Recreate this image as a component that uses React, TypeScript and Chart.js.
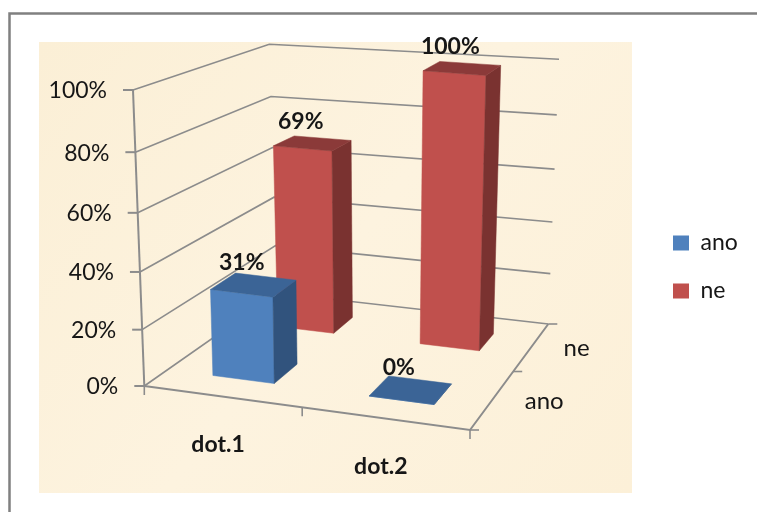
import React, { useEffect, useRef } from "react";
import { Chart, registerables } from "chart.js";

Chart.register(...registerables);

const categories = ["dot.1", "dot.2"];
const seriesNames = ["ano", "ne"];
const anoValues = [31, 0];
const neValues = [69, 100];
const yMax = 100;
const yStep = 20;

const BLUE = { front: "#4F81BD", side: "#31537D", top: "#3B6496" };
const RED = { front: "#C0504D", side: "#7A3230", top: "#8B3A39" };
const shades = [BLUE, RED];
const GRID = "#8C8C8C";
const TEXT = "#161616";
const FONT = "Lato";

type Pt = [number, number];

function quad(p0: Pt, p1: Pt, p2: Pt, p3: Pt) {
  const dx1 = p1[0] - p2[0], dx2 = p3[0] - p2[0], sx = p0[0] - p1[0] + p2[0] - p3[0];
  const dy1 = p1[1] - p2[1], dy2 = p3[1] - p2[1], sy = p0[1] - p1[1] + p2[1] - p3[1];
  const den = dx1 * dy2 - dx2 * dy1;
  const g = (sx * dy2 - dx2 * sy) / den;
  const h = (dx1 * sy - sx * dy1) / den;
  const a = p1[0] - p0[0] + g * p1[0], b = p3[0] - p0[0] + h * p3[0];
  const d = p1[1] - p0[1] + g * p1[1], e = p3[1] - p0[1] + h * p3[1];
  return (s: number, t: number): Pt => {
    const w = 1 + g * s + h * t;
    return [(p0[0] + a * s + b * t) / w, (p0[1] + d * s + e * t) / w];
  };
}

// The view of the 3D box: floor plane, and how far each floor corner rises at the axis maximum.
const floor = quad([144.3, 386], [470, 430], [548.3, 324], [277, 293]);
const riseFront: [Pt, Pt] = [[-11.3, -296], [7, -300]];
const riseBack: [Pt, Pt] = [[-7.7, -248.7], [10.7, -264.7]];
const K = -0.06;
const DEPTH_RATIO = 0.9;

function project(s: number, t: number, z: number): Pt {
  const a = floor(s, t);
  const f = (z * (1 + K)) / (1 + K * z);
  const mix = (i: 0 | 1) =>
    (riseFront[0][i] * (1 - s) + riseFront[1][i] * s) * (1 - t) +
    (riseBack[0][i] * (1 - s) + riseBack[1][i] * s) * t;
  return [a[0] + mix(0) * f, a[1] + mix(1) * f];
}

function poly(ctx: CanvasRenderingContext2D, pts: Pt[], fill: string) {
  ctx.beginPath();
  pts.forEach((p, i) => (i ? ctx.lineTo(p[0], p[1]) : ctx.moveTo(p[0], p[1])));
  ctx.closePath();
  ctx.fillStyle = fill;
  ctx.fill();
  ctx.strokeStyle = fill;
  ctx.lineWidth = 0.5;
  ctx.stroke();
}

function line(ctx: CanvasRenderingContext2D, pts: Pt[], width: number) {
  ctx.beginPath();
  pts.forEach((p, i) => (i ? ctx.lineTo(p[0], p[1]) : ctx.moveTo(p[0], p[1])));
  ctx.strokeStyle = GRID;
  ctx.lineWidth = width;
  ctx.stroke();
}

function text(
  ctx: CanvasRenderingContext2D,
  str: string,
  x: number,
  y: number,
  font: string,
  align: CanvasTextAlign
) {
  ctx.font = font;
  ctx.textAlign = align;
  ctx.textBaseline = "middle";
  ctx.fillStyle = TEXT;
  ctx.fillText(str, x, y);
}

const view3d = {
  id: "view3d",
  afterLayout(chart: any) {
    const lg = chart.legend;
    const w = lg.right - lg.left, h = lg.bottom - lg.top;
    lg.left = 648;
    lg.right = lg.left + w;
    lg.top = 206.5;
    lg.bottom = lg.top + h;
  },
  beforeDraw(chart: any) {
    const ctx = chart.ctx as CanvasRenderingContext2D;
    ctx.save();
    ctx.fillStyle = "#FFFFFF";
    ctx.fillRect(0, 0, chart.width, chart.height);
    ctx.strokeStyle = "#808080";
    ctx.lineWidth = 2.5;
    ctx.beginPath();
    ctx.moveTo(9.5, chart.height + 2);
    ctx.lineTo(9.5, 13.5);
    ctx.lineTo(chart.width + 2, 13.5);
    ctx.stroke();
    const g = ctx.createLinearGradient(39, 42, 632, 493);
    g.addColorStop(0, "#FBEFD6");
    g.addColorStop(0.5, "#FDF3DF");
    g.addColorStop(1, "#FCF0D8");
    ctx.fillStyle = g;
    ctx.fillRect(39, 42, 593, 451);
    ctx.restore();
  },
  beforeDatasetsDraw(chart: any) {
    const ctx = chart.ctx as CanvasRenderingContext2D;
    const xs = chart.scales.x, ys = chart.scales.y;
    const n = chart.data.datasets.length;
    const zOf = (px: number) => (ys.bottom - px) / ys.height;
    ctx.save();

    // walls: one gridline per tick of the value axis
    ys.ticks.forEach((tk: any) => {
      const z = zOf(ys.getPixelForValue(tk.value));
      line(ctx, [project(0, 0, z), project(0, 1, z), project(1, 1, z)], 1.6);
      const p = project(0, 0, z);
      line(ctx, [[p[0] - 10, p[1]], p], 2);
      text(ctx, tk.label, p[0] - 26, p[1] + 1, `23px ${FONT}`, "right");
    });

    // axis lines and their tick marks
    line(ctx, [project(0, 0, 0), project(0, 0, 1)], 2);
    line(ctx, [project(0, 0, 0), project(1, 0, 0), project(1, 1, 0)], 2);
    [0, 0.5, 1].forEach((s) => {
      const p = project(s, 0, 0);
      line(ctx, [p, [p[0], p[1] + 9]], 1.6);
    });
    [0, 0.5, 1].forEach((t) => {
      const p = project(1, t, 0);
      line(ctx, [p, [p[0] + 9, p[1]]], 1.6);
    });

    // bars, from the back series to the front one
    const labels: Array<[string, number, number]> = [];
    for (let d = n - 1; d >= 0; d--) {
      const meta = chart.getDatasetMeta(d);
      const c = shades[d];
      meta.data.forEach((el: any, i: number) => {
        const s0 = (el.x - el.width / 2 - xs.left) / xs.width;
        const s1 = (el.x + el.width / 2 - xs.left) / xs.width;
        const span = el.width / xs.width;
        const t0 = (d + 0.5) / n - span / 2;
        const t1 = t0 + DEPTH_RATIO * span;
        const z = zOf(el.y);
        poly(ctx, [project(s0, t0, 0), project(s1, t0, 0), project(s1, t0, z), project(s0, t0, z)], c.front);
        poly(ctx, [project(s1, t0, 0), project(s1, t1, 0), project(s1, t1, z), project(s1, t0, z)], c.side);
        poly(ctx, [project(s0, t0, z), project(s1, t0, z), project(s1, t1, z), project(s0, t1, z)], c.top);
        const top = project((s0 + s1) / 2, (t0 + t1) / 2, z);
        labels.push([`${chart.data.datasets[d].data[i]}%`, top[0] - 12, top[1] - 22]);
      });
    }
    labels.forEach(([str, x, y]) => text(ctx, str, x, y, `bold 23px ${FONT}`, "center"));

    // category labels, along the front of the floor
    xs.ticks.forEach((tk: any, i: number) => {
      const s = (xs.getPixelForValue(tk.value) - xs.left) / xs.width;
      const p = project(s, 0, 0);
      text(ctx, categories[i], p[0] - 4, p[1] + 48, `bold 23px ${FONT}`, "center");
    });
    // series labels, along the right of the floor
    chart.data.datasets.forEach((ds: any, d: number) => {
      const p = project(1, (d + 0.5) / n, 0);
      text(ctx, ds.label, p[0] + 32, p[1] + 2, `24px ${FONT}`, "left");
    });

    ctx.restore();
    return false;
  },
};

export default function App() {
  const ref = useRef<HTMLCanvasElement>(null);
  useEffect(() => {
    const chart = new Chart(ref.current!, {
      type: "bar",
      data: {
        labels: categories,
        datasets: [
          { label: seriesNames[0], data: anoValues, backgroundColor: BLUE.front, borderWidth: 0 },
          { label: seriesNames[1], data: neValues, backgroundColor: RED.front, borderWidth: 0 },
        ],
      },
      options: {
        responsive: false,
        animation: false,
        devicePixelRatio: 1,
        layout: { padding: { left: 145, top: 90, bottom: 126, right: 10 } },
        datasets: { bar: { grouped: false, barPercentage: 0.4, categoryPercentage: 1 } },
        scales: {
          x: { display: false },
          y: {
            display: false,
            min: 0,
            max: yMax,
            ticks: { stepSize: yStep, callback: (v: any) => `${v}%` },
          },
        },
        plugins: {
          tooltip: { enabled: false },
          legend: {
            position: "right",
            align: "start",
            labels: {
              boxWidth: 16,
              boxHeight: 15,
              padding: 25,
              color: TEXT,
              font: { family: FONT, size: 23 },
            },
          },
        },
      },
      plugins: [view3d],
    } as any);
    return () => chart.destroy();
  }, []);
  return (
    <canvas
      ref={ref}
      width={757}
      height={512}
      style={{ position: "fixed", left: 0, top: 0, width: 757, height: 512, filter: "blur(0.5px)" }}
    />
  );
}
